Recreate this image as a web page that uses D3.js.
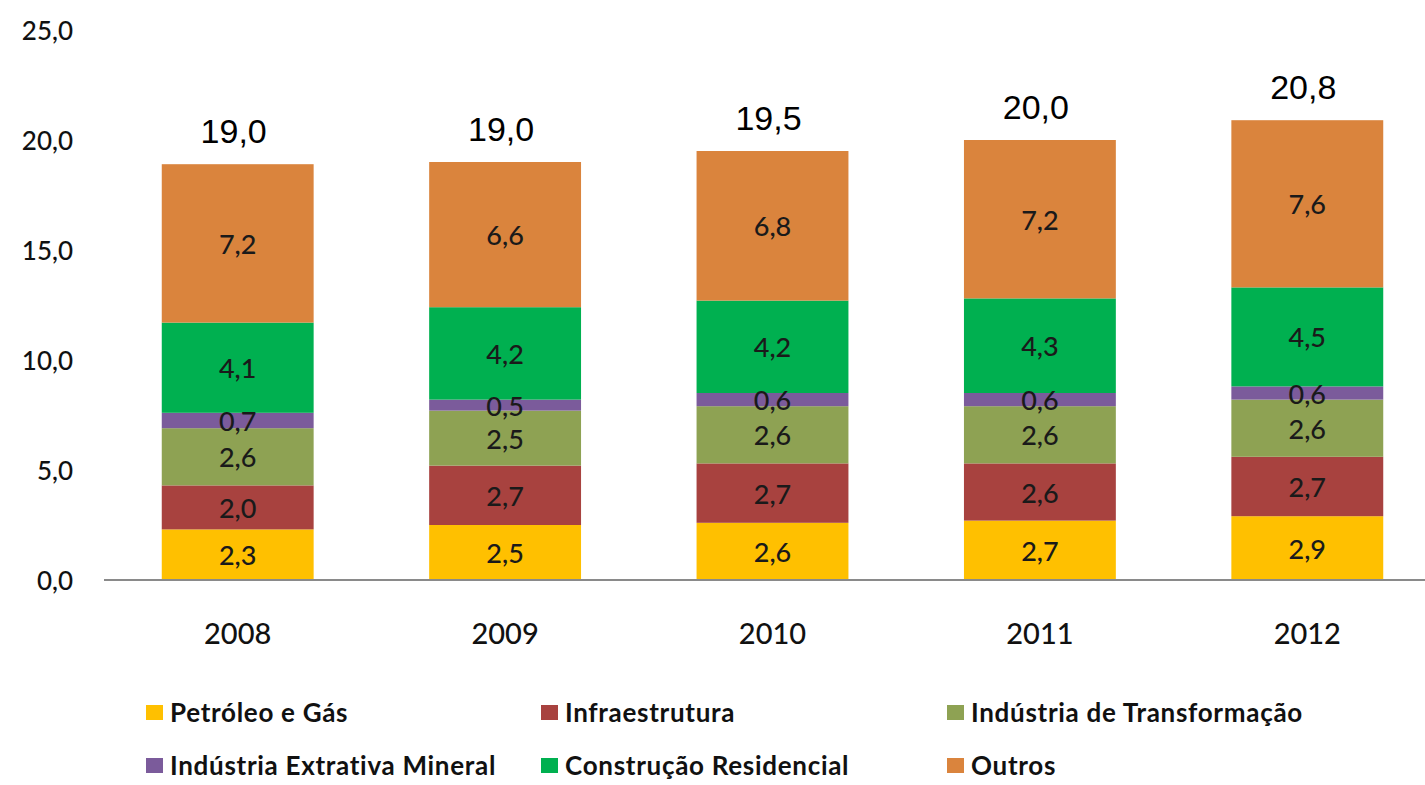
<!DOCTYPE html>
<meta charset="utf-8">
<title>Investimentos por setor</title>
<script src="https://d3js.org/d3.v7.min.js"></script>
<style>
  body { margin: 0; background: #fff; font-family: "Lato", sans-serif; }
</style>
<div id="chart"></div>
<script>
// data
var years = ["2008", "2009", "2010", "2011", "2012"];
var series = ["Petróleo e Gás", "Infraestrutura", "Indústria de Transformação",
              "Indústria Extrativa Mineral", "Construção Residencial", "Outros"];
var petroleo    = [2.3, 2.5, 2.6, 2.7, 2.9];
var infra       = [2.0, 2.7, 2.7, 2.6, 2.7];
var transform   = [2.6, 2.5, 2.6, 2.6, 2.6];
var extrativa   = [0.7, 0.5, 0.6, 0.6, 0.6];
var construcao  = [4.1, 4.2, 4.2, 4.3, 4.5];
var outros      = [7.2, 6.6, 6.8, 7.2, 7.6];
var totals      = [19.0, 19.0, 19.5, 20.0, 20.8];
var yTicks      = [0, 5, 10, 15, 20, 25];

var colors = ["#FFC000", "#A8423F", "#8EA253", "#7B5B9B", "#00B050", "#DA843D"];
var values = [petroleo, infra, transform, extrativa, construcao, outros];

var W = 1425, H = 785;
var svg = d3.select("#chart").append("svg")
    .attr("width", W).attr("height", H);

var fmt = function(v) { return v.toFixed(1).replace(".", ","); };

var x = d3.scaleBand()
    .domain(years)
    .range([104, 1441])
    .paddingInner(0.432)
    .paddingOuter(0.216);

var y = d3.scaleLinear().domain([0, 25]).range([580, 30]);

// y axis labels
svg.append("g")
  .selectAll("text")
  .data(yTicks)
  .enter().append("text")
    .attr("x", 73)
    .attr("y", function(d) { return y(d); })
    .attr("text-anchor", "end")
    .attr("dominant-baseline", "central")
    .style("font-size", "26px")
    .style("font-weight", "500")
    .style("fill", "#111")
    .text(fmt);

// stacked data
var rows = years.map(function(yr, i) {
  var r = {year: yr};
  series.forEach(function(s, k) { r[s] = values[k][i]; });
  return r;
});
var stack = d3.stack().keys(series)(rows);

var layers = svg.selectAll(".layer")
  .data(stack)
  .enter().append("g")
    .attr("class", "layer")
    .attr("fill", function(d, k) { return colors[k]; });

layers.selectAll("rect")
  .data(function(d) { return d; })
  .enter().append("rect")
    .attr("x", function(d) { return x(d.data.year); })
    .attr("y", function(d) { return y(d[1]); })
    .attr("width", x.bandwidth())
    .attr("height", function(d) { return y(d[0]) - y(d[1]); });

// segment labels
stack.forEach(function(layer, k) {
  svg.append("g").selectAll("text")
    .data(layer)
    .enter().append("text")
      .attr("x", function(d) { return x(d.data.year) + x.bandwidth() / 2; })
      .attr("y", function(d) { return (y(d[0]) + y(d[1])) / 2; })
      .attr("text-anchor", "middle")
      .attr("dominant-baseline", "central")
      .style("font-size", "27px")
      .style("font-weight", "500")
      .style("fill", "#1a1a1a")
      .text(function(d) { return fmt(values[k][years.indexOf(d.data.year)]); });
});

// totals above bars
var topLayer = stack[stack.length - 1];
svg.append("g").selectAll("text")
  .data(topLayer)
  .enter().append("text")
    .attr("x", function(d) { return x(d.data.year) + x.bandwidth() / 2 - 4; })
    .attr("y", function(d) { return y(d[1]) - 21; })
    .attr("text-anchor", "middle")
    .style("font-family", "Arial, 'Liberation Sans', sans-serif")
    .style("font-size", "34px")
    .style("fill", "#000")
    .text(function(d, i) { return fmt(totals[i]); });

// x axis line
svg.append("line")
  .attr("x1", 104).attr("x2", W)
  .attr("y1", y(0)).attr("y2", y(0))
  .attr("stroke", "#8a8a8a")
  .attr("stroke-width", 2);

// year labels
svg.append("g").selectAll("text")
  .data(years)
  .enter().append("text")
    .attr("x", function(d) { return x(d) + x.bandwidth() / 2; })
    .attr("y", 632)
    .attr("text-anchor", "middle")
    .attr("dominant-baseline", "central")
    .style("font-size", "29px")
    .style("font-weight", "500")
    .style("fill", "#111")
    .text(function(d) { return d; });

// legend
var legX = [146, 541, 947];
var legY = [712, 765];
var legend = svg.append("g").selectAll("g")
  .data(series)
  .enter().append("g")
    .attr("transform", function(d, i) {
      return "translate(" + legX[i % 3] + "," + legY[Math.floor(i / 3)] + ")";
    });
legend.append("rect")
  .attr("x", 0).attr("y", -7)
  .attr("width", 17).attr("height", 15)
  .attr("fill", function(d, i) { return colors[i]; });
legend.append("text")
  .attr("x", 24)
  .attr("y", 0)
  .attr("dominant-baseline", "central")
  .style("font-size", "26px")
  .style("font-weight", "700")
  .style("letter-spacing", "0.7px")
  .style("fill", "#111")
  .text(function(d) { return d; });
</script>
